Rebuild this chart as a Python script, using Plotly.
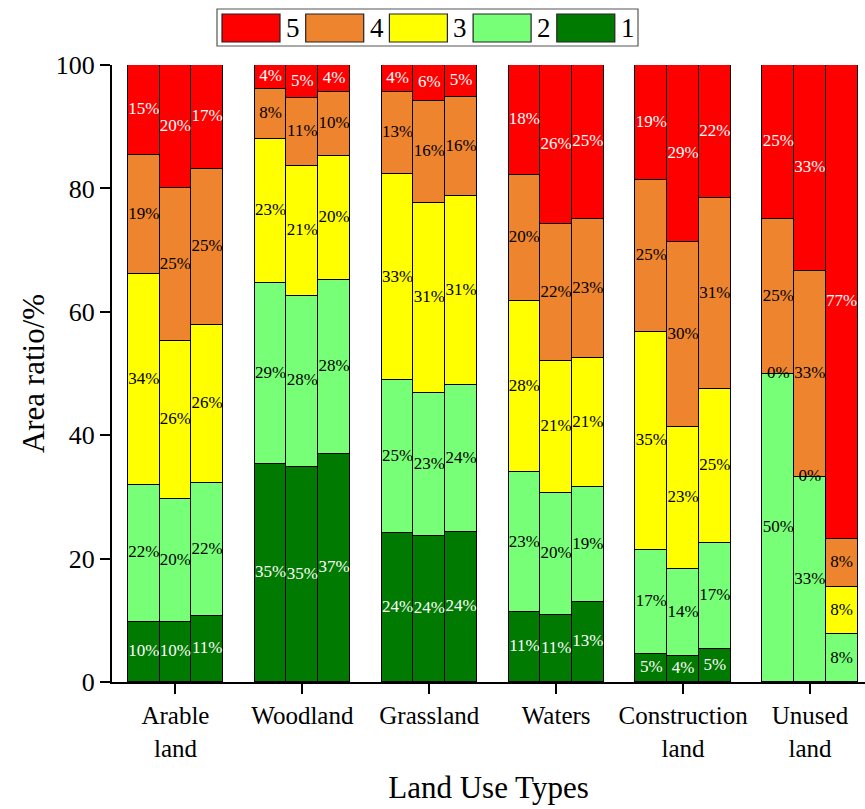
import plotly.graph_objects as go

# Land use categories (x axis) and the three bars drawn inside each category
categories = ["Arable<br>land", "Woodland", "Grassland", "Waters", "Construction<br>land", "Unused<br>land"]
bars_per_group = 3

# Area ratio (%) of each class; each list holds 3 bars per land use type, in order
class_1 = [9.8, 9.7, 10.7,  35.3, 34.9, 36.9,  24.1, 23.6, 24.3,  11.3, 10.8, 12.9,  4.6, 4.2, 5.4,  None, None, None]
class_2 = [22.2, 20.0, 21.6, 29.3, 27.7, 28.3,  24.8, 23.3, 23.8,  22.7, 19.9, 18.7,  16.8, 14.1, 17.1, 50.0, 33.3, 7.7]
class_3 = [34.1, 25.6, 25.6, 23.4, 21.1, 20.1,  33.4, 30.8, 30.6,  27.8, 21.4, 20.9,  35.4, 23.1, 25.0, 0.0, 0.0, 7.7]
class_4 = [19.3, 24.8, 25.3, 8.1, 10.9, 10.4,   13.4, 16.4, 16.1,  20.3, 22.1, 22.6,  24.6, 29.9, 30.9, 25.0, 33.3, 7.7]
class_5 = [14.6, 19.9, 16.8, 3.9, 5.4, 4.3,     4.3, 5.9, 5.2,     17.9, 25.8, 24.9,  18.6, 28.7, 21.6, 25.0, 33.4, 76.9]

series_names = ["1", "2", "3", "4", "5"]
series_values = [class_1, class_2, class_3, class_4, class_5]
series_colors = ["#007A00", "#78FF78", "#FFFF00", "#EE842E", "#FF0000"]
label_colors = ["white", "black", "black", "black", "white"]

y_ticks = [0, 20, 40, 60, 80, 100]

FONT = "Liberation Serif"
BAR_W = 0.25

# numeric x position of each bar: category index plus its offset within the group
x_pos = []
for g in range(len(categories)):
    for b in range(bars_per_group):
        x_pos.append(g + (b - (bars_per_group - 1) / 2) * BAR_W)

fig = go.Figure()
for name, vals, col in zip(series_names, series_values, series_colors):
    fig.add_trace(go.Bar(
        x=x_pos, y=vals, name=name, width=BAR_W,
        marker=dict(color=col, line=dict(color="black", width=1.5)),
        textposition="none", showlegend=False, hoverinfo="skip",
    ))

# percentage labels, centred on each stacked segment
base = [0.0] * len(x_pos)
for vals, tcol in zip(series_values, label_colors):
    lx, ly, lt = [], [], []
    for i, v in enumerate(vals):
        if v is None:
            continue
        lx.append(x_pos[i])
        ly.append(base[i] + v / 2)
        lt.append(f"{v:.0f}%")
        base[i] += v
    fig.add_trace(go.Scatter(
        x=lx, y=ly, text=lt, mode="text", textposition="middle center",
        textfont=dict(family=FONT, size=17, color=tcol),
        showlegend=False, hoverinfo="skip", cliponaxis=False,
    ))

# plot area in pixels (used for the hand-drawn legend)
W, H = 865, 809
L, R, T, B = 112, 0, 65, 127
pw, ph = W - L - R, H - T - B


def px(xp):
    return (xp - L) / pw


def py(yp):
    return (H - B - yp) / ph


shapes = [dict(type="rect", xref="paper", yref="paper",
               x0=px(217), x1=px(638), y0=py(46), y1=py(9),
               line=dict(color="#555555", width=1.2), fillcolor="white", layer="above")]
annotations = []
legend_order = list(range(len(series_names)))[::-1]
for i, k in enumerate(legend_order):
    x0 = 222 + i * 83.7
    shapes.append(dict(type="rect", xref="paper", yref="paper",
                       x0=px(x0), x1=px(x0 + 58), y0=py(42), y1=py(14),
                       line=dict(color="#222222", width=1.2),
                       fillcolor=series_colors[k], layer="above"))
    annotations.append(dict(xref="paper", yref="paper", x=px(x0 + 71), y=py(28),
                            text=series_names[k], showarrow=False,
                            xanchor="center", yanchor="middle",
                            font=dict(family=FONT, size=27, color="black")))

fig.update_layout(
    width=W, height=H,
    margin=dict(l=L, r=R, t=T, b=B, pad=0),
    barmode="stack", bargap=0,
    plot_bgcolor="white", paper_bgcolor="white",
    font=dict(family=FONT, color="black"),
    shapes=shapes, annotations=annotations,
    showlegend=False,
)
fig.update_xaxes(
    range=[-0.5, -0.5 + pw / 126.9],
    tickmode="array", tickvals=list(range(len(categories))), ticktext=categories,
    ticks="outside", ticklen=10, tickwidth=2, tickcolor="black",
    showline=True, linecolor="black", linewidth=2, showgrid=False, zeroline=False,
    tickfont=dict(family=FONT, size=25, color="black"),
    title=dict(text="Land Use Types", font=dict(family=FONT, size=31, color="black"), standoff=16),
)
fig.update_yaxes(
    range=[0, 100], tickvals=y_ticks,
    ticks="outside", ticklen=10, tickwidth=2, tickcolor="black",
    showline=True, linecolor="black", linewidth=2, showgrid=False, zeroline=False,
    tickfont=dict(family=FONT, size=26, color="black"),
    title=dict(text="Area ratio/%", font=dict(family=FONT, size=31, color="black"), standoff=2),
)

fig.write_html("out.html")
